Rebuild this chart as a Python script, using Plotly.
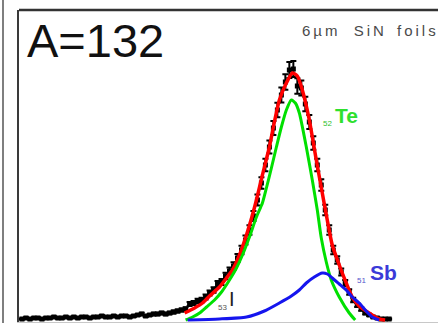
import numpy as np
import plotly.graph_objects as go

# ---- measured spectrum (channel, counts) ----
channels = list(range(2, 372, 4))
counts = [4, 8, 4, 8, 8, 4, 8, 8, 12, 8,
          8, 12, 8, 12, 8, 12, 12, 8, 12, 12,
          16, 12, 12, 16, 12, 16, 16, 12, 16, 20,
          24, 16, 20, 24, 24, 28, 24, 28, 32, 36,
          40, 44, 64, 68, 76, 80, 92, 108, 120, 144,
          152, 176, 196, 216, 248, 280, 320, 360, 416, 480,
          548, 620, 692, 768, 840, 900, 952, 1000, 1004, 936,
          928, 864, 792, 708, 620, 540, 440, 360, 280, 240,
          192, 148, 112, 80, 60, 44, 28, 20, 12, 8,
          4, 4, 4]

# ---- fit components ----
total_x = [165, 175, 183, 190, 200, 207, 213, 220, 227, 233, 237, 243, 250,
           255, 260, 267, 273, 278, 283, 290, 297, 303, 308, 313, 320, 327, 333, 340,
           350, 360, 366]
total_y = [28, 48, 68, 96, 132, 168, 200, 260, 340, 420, 480, 580, 692,
           792, 880, 948, 988, 976, 920, 800, 640, 508, 400, 300, 220, 148, 92, 56,
           28, 4, 0]

te_x = [166, 173, 180, 187, 195, 202, 210, 217, 223, 230, 237, 243, 247, 252, 257, 262,
        267, 272, 276, 280, 287, 293, 298, 302, 307, 312, 320, 330, 336]
te_y = [0, 12, 28, 52, 80, 112, 160, 208, 260, 332, 412, 468, 528, 608, 692, 772,
        840, 880, 868, 828, 692, 560, 440, 328, 232, 160, 92, 28, 0]

sb_x = [168, 200, 227, 245, 260, 272, 280, 287, 295, 303, 308, 313, 320, 327, 333, 340,
        347, 353, 360]
sb_y = [0, 4, 12, 36, 68, 96, 120, 148, 172, 188, 184, 168, 144, 120, 92, 68,
        36, 12, 0]

W, H = 438, 323
L, R, T, B = 19, 0, 10, 1


def px(x, y):
    """pixel -> paper coords for text placement"""
    return (x - L) / (W - L - R), (H - B - y) / (H - T - B)


fig = go.Figure()
fig.add_trace(go.Scatter(x=channels, y=counts, mode="markers",
                         marker=dict(color="black", size=5, symbol="square"),
                         error_y=dict(type="data", array=np.sqrt(counts), color="black",
                                      thickness=2, width=3)))
fig.add_trace(go.Scatter(x=total_x, y=total_y, mode="lines",
                         line=dict(color="#ff0000", width=3.5, shape="spline", smoothing=0.6)))
fig.add_trace(go.Scatter(x=te_x, y=te_y, mode="lines",
                         line=dict(color="#00e000", width=3, shape="spline", smoothing=0.6)))
fig.add_trace(go.Scatter(x=sb_x, y=sb_y, mode="lines",
                         line=dict(color="#1515ee", width=3, shape="spline", smoothing=0.6)))

annos = []


def label(text, x, y, size, color, bold=False):
    fx, fy = px(x, y)
    t = f"<b>{text}</b>" if bold else text
    annos.append(dict(text=t, x=fx, y=fy, xref="paper", yref="paper",
                      xanchor="left", yanchor="middle", showarrow=False,
                      font=dict(family="Liberation Sans, Arial", size=size, color=color)))


th = "\u2009"
foil = th.join("6µm") + " " + th * 4 + th.join("SiN") + " " + th * 3 + th.join("foils")
label("A=132", 25, 40, 47, "#111111")
label(foil, 300, 31, 15, "#4a4a4a")
label("Te", 333, 115, 21, "#2ee02e", bold=True)
label("52", 321, 123, 8, "#2ec02e")
label("Sb", 368, 272, 21, "#3a3ad8", bold=True)
label("51", 355, 280, 8, "#5555cc")
label("I", 227, 299, 20, "#222222")
label("53", 216, 307, 8, "#555555")

x_far, _ = px(3, 0)
shapes = [
    dict(type="line", xref="paper", yref="paper", x0=0, x1=1.01, y0=1, y1=1,
         line=dict(color="#333333", width=2.5)),
    dict(type="line", xref="paper", yref="paper", x0=x_far, x1=x_far, y0=-0.02, y1=1.05,
         line=dict(color="#555555", width=1.5)),
]

fig.update_layout(
    width=W, height=H,
    margin=dict(l=L, r=R, t=T, b=B),
    paper_bgcolor="white", plot_bgcolor="white",
    showlegend=False,
    annotations=annos, shapes=shapes,
    xaxis=dict(range=[-1, 419], showgrid=False, zeroline=False, showticklabels=False,
               ticks="", showline=True, linecolor="#c8c8c8", linewidth=1),
    yaxis=dict(range=[-8, 1240], showgrid=False, zeroline=False, showticklabels=False,
               ticks="", showline=True, linecolor="#3a3a3a", linewidth=2),
)
fig.write_html("out.html")
